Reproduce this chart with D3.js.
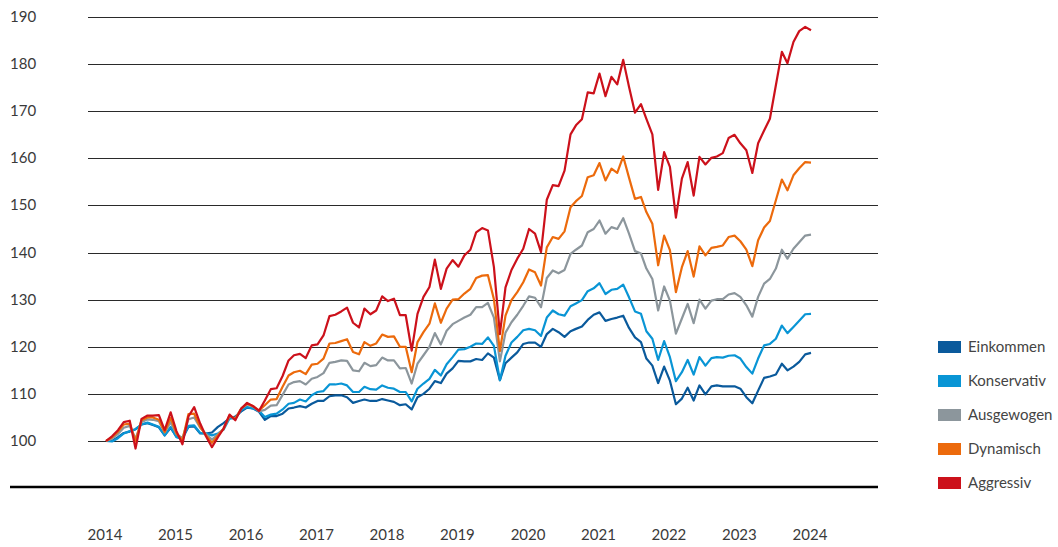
<!DOCTYPE html>
<html>
<head>
<meta charset="utf-8">
<script src="https://cdn.jsdelivr.net/npm/d3@7"></script>
<style>
  body { margin: 0; background: #fff; }
  svg { display: block; font-family: Lato, "Open Sans", sans-serif; }
  .lbl { fill: #3a3a3a; font-size: 15px; }
</style>
</head>
<body>
<svg width="1058" height="547"></svg>
<script>
// monthly index values, Jul 2014 .. Jul 2024 (start = 100)
var seriesNames = ["Einkommen", "Konservativ", "Ausgewogen", "Dynamisch", "Aggressiv"];
var seriesColors = ["#0a5a9c", "#0995d5", "#8c969c", "#ec6a0c", "#cc111b"];

var einkommen = [100, 100.0, 100.8, 101.7, 102.0, 102.5, 103.5, 103.8, 103.4, 102.9,
  101.2, 102.8, 100.9, 100.6, 103.0, 103.1, 101.6, 101.6, 101.8, 103.0,
  103.8, 104.8, 105.2, 106.3, 107.1, 106.9, 106.2, 104.5, 105.3, 105.3,
  105.8, 106.9, 107.1, 107.4, 107.1, 107.9, 108.5, 108.5, 109.5, 109.7,
  109.7, 109.3, 108.1, 108.5, 108.8, 108.5, 108.5, 108.9, 108.6, 108.3,
  107.6, 107.8, 106.7, 109.3, 110.0, 111.1, 112.7, 112.3, 114.3, 115.4,
  117.0, 116.9, 116.9, 117.4, 117.2, 118.6, 117.7, 112.9, 116.5, 117.7,
  118.8, 120.6, 120.9, 120.9, 120.0, 122.7, 123.8, 123.1, 122.1, 123.3,
  123.8, 124.3, 125.7, 126.8, 127.3, 125.5, 125.9, 126.2, 126.6, 124.0,
  122.0, 121.0, 117.5, 116.0, 112.3, 115.8, 112.8, 107.8, 109.0, 111.3,
  108.6, 111.8, 109.9, 111.6, 111.8, 111.6, 111.6, 111.6, 111.1, 109.3,
  108.0, 110.7, 113.4, 113.7, 114.1, 116.4, 115.0, 115.8, 116.8, 118.4,
  118.7];

var konservativ = [100, 99.9, 100.6, 101.6, 102.1, 102.5, 103.5, 103.9, 103.5, 103.0,
  101.2, 103.0, 100.8, 100.4, 103.2, 103.3, 101.7, 101.6, 101.2, 101.6,
  102.4, 104.8, 104.8, 106.6, 107.2, 106.9, 106.4, 105.1, 105.6, 105.8,
  106.7, 107.9, 108.1, 108.8, 108.4, 109.7, 110.4, 110.6, 112.0, 112.0,
  112.2, 111.8, 110.4, 110.4, 111.5, 111.0, 110.9, 111.8, 111.3, 111.1,
  110.4, 110.4, 108.4, 111.1, 112.2, 113.2, 115.1, 113.9, 116.3, 117.8,
  119.4, 119.5, 120.0, 120.7, 120.6, 122.0, 120.2, 112.9, 118.1, 120.9,
  122.1, 123.5, 123.8, 123.5, 122.3, 126.2, 127.7, 126.9, 126.6, 128.6,
  129.2, 129.9, 131.8, 132.4, 133.5, 131.2, 132.1, 132.3, 133.2, 130.5,
  127.5, 127.0, 123.3, 121.7, 117.2, 121.2, 117.8, 112.7, 114.6, 117.2,
  114.1, 117.8, 116.0, 117.6, 117.8, 117.7, 118.1, 118.2, 117.5, 115.7,
  114.3, 117.5, 120.3, 120.6, 121.7, 124.5, 122.9, 124.2, 125.5, 126.9,
  127.0];

var ausgewogen = [100, 100.5, 101.5, 102.8, 103.2, 100.5, 104.0, 104.6, 104.5, 104.2,
  101.8, 104.0, 101.5, 100.6, 104.6, 105.0, 102.8, 101.5, 100.3, 101.4,
  102.6, 105.2, 104.8, 106.9, 107.8, 107.3, 106.3, 106.6, 107.5, 107.6,
  109.8, 112.0, 112.5, 112.7, 112.0, 113.2, 113.6, 114.4, 116.6, 116.8,
  117.1, 117.0, 115.0, 114.8, 116.6, 115.9, 116.1, 117.7, 117.1, 117.1,
  115.4, 115.5, 112.2, 116.4, 118.2, 120.0, 122.9, 120.5, 123.4, 124.8,
  125.5, 126.2, 126.8, 128.4, 128.4, 129.3, 126.2, 116.9, 123.0, 125.2,
  126.8, 128.7, 130.7, 130.4, 128.4, 134.6, 136.2, 135.6, 136.3, 139.7,
  140.6, 141.5, 144.3, 145.0, 146.8, 144.0, 145.4, 145.0, 147.3, 144.0,
  140.3, 139.8, 136.6, 134.4, 127.7, 132.8, 129.8, 122.8, 126.0, 129.1,
  125.0, 130.0, 128.1, 129.8, 130.1, 130.1, 131.1, 131.4, 130.6, 128.8,
  126.4, 130.6, 133.4, 134.4, 136.6, 140.6, 138.7, 140.8, 142.2, 143.6,
  143.8];

var dynamisch = [100, 100.8, 102.0, 103.5, 103.7, 100.0, 104.4, 105.0, 105.0, 104.5,
  101.9, 104.9, 101.6, 100.1, 105.7, 105.8, 103.0, 101.2, 99.6, 101.2,
  102.6, 105.4, 104.7, 106.9, 107.9, 107.4, 106.5, 107.6, 108.8, 108.9,
  111.5, 113.9, 114.6, 114.9, 114.2, 116.2, 116.4, 117.5, 120.7, 120.8,
  121.2, 121.6, 118.9, 118.4, 121.0, 120.2, 120.7, 122.6, 122.1, 122.2,
  120.0, 120.0, 114.6, 121.0, 123.1, 124.9, 129.2, 125.1, 128.1, 130.0,
  130.1, 131.3, 132.3, 134.6, 135.1, 135.2, 130.1, 119.1, 126.6, 129.9,
  131.6, 133.7, 136.4, 135.8, 133.0, 141.1, 143.3, 142.9, 144.5, 149.6,
  150.9, 152.0, 156.0, 156.4, 159.0, 155.3, 157.8, 156.9, 160.4, 155.9,
  151.4, 151.8, 148.6, 146.1, 137.3, 143.6, 140.5, 131.6, 136.9, 140.3,
  134.9, 141.3, 139.4, 141.0, 141.2, 141.5, 143.3, 143.6, 142.4, 140.6,
  137.1, 142.6, 145.3, 146.7, 151.1, 155.5, 153.2, 156.4, 157.9, 159.2,
  159.1];

var aggressiv = [100, 101.0, 102.3, 104.0, 104.3, 98.4, 104.7, 105.4, 105.4, 105.5,
  102.3, 106.1, 102.1, 99.3, 105.2, 107.2, 103.7, 101.0, 98.7, 100.8,
  102.6, 105.6, 104.4, 106.9, 108.1, 107.4, 106.4, 108.6, 111.0, 111.2,
  113.8, 117.1, 118.2, 118.5, 117.6, 120.3, 120.5, 122.4, 126.5, 126.8,
  127.5, 128.3, 125.1, 124.1, 128.1, 126.9, 127.7, 130.7, 129.7, 130.2,
  126.7, 126.7, 119.2, 127.0, 130.6, 132.7, 138.5, 132.3, 136.6, 138.4,
  137.0, 139.4, 140.6, 144.3, 145.2, 144.7, 136.9, 122.7, 132.6, 136.3,
  138.7, 140.8, 145.0, 144.0, 140.1, 151.2, 154.3, 154.1, 157.4, 165.1,
  167.0, 168.3, 174.0, 173.8, 178.0, 173.2, 177.3, 175.7, 180.9, 175.2,
  169.7, 171.5, 168.4, 165.1, 153.3, 161.3, 158.2, 147.4, 155.7, 159.2,
  152.1, 160.3, 158.7, 160.1, 160.4, 161.1, 164.3, 165.0, 163.2, 161.7,
  156.9, 163.2, 165.9, 168.4, 175.5, 182.6, 180.2, 184.7, 187.0, 187.9,
  187.2];

var yTicks = [100, 110, 120, 130, 140, 150, 160, 170, 180, 190];
var yearLabels = [2014, 2015, 2016, 2017, 2018, 2019, 2020, 2021, 2022, 2023, 2024];

var allSeries = [einkommen, konservativ, ausgewogen, dynamisch, aggressiv];

var svg = d3.select("svg");

var start = new Date(2014, 6, 1);
var months = d3.range(einkommen.length).map(function(i) { return d3.timeMonth.offset(start, i); });

var x = d3.scaleTime()
    .domain([start, new Date(2024, 6, 1)])
    .range([106, 811]);

var y = d3.scaleLinear()
    .domain([100, 190])
    .range([441, 17]);

// grid
svg.append("g").selectAll("line")
    .data(yTicks)
    .enter().append("line")
    .attr("x1", 88).attr("x2", 878)
    .attr("y1", function(d) { return Math.round(y(d)) + 0.5; })
    .attr("y2", function(d) { return Math.round(y(d)) + 0.5; })
    .attr("stroke", "#2a2a2a")
    .attr("stroke-width", 1);

svg.append("g").selectAll("text")
    .data(yTicks)
    .enter().append("text")
    .attr("class", "lbl")
    .attr("x", 10)
    .attr("y", function(d) { return y(d) + 5; })
    .text(function(d) { return d; });

// baseline
svg.append("line")
    .attr("x1", 10).attr("x2", 878)
    .attr("y1", 487).attr("y2", 487)
    .attr("stroke", "#000")
    .attr("stroke-width", 2.5);

svg.append("g").selectAll("text")
    .data(yearLabels)
    .enter().append("text")
    .attr("class", "lbl")
    .attr("text-anchor", "middle")
    .attr("x", function(d) { return x(new Date(d, 6, 1)) - 1; })
    .attr("y", 540)
    .text(function(d) { return d; });

var line = d3.line()
    .x(function(d, i) { return x(months[i]); })
    .y(function(d) { return y(d); });

svg.append("g").selectAll("path")
    .data(allSeries)
    .enter().append("path")
    .attr("d", line)
    .attr("fill", "none")
    .attr("stroke", function(d, i) { return seriesColors[i]; })
    .attr("stroke-width", 2.2)
    .attr("stroke-linejoin", "round");

// legend
var leg = svg.append("g").selectAll("g")
    .data(seriesNames)
    .enter().append("g")
    .attr("transform", function(d, i) { return "translate(938," + (347 + i * 34) + ")"; });

leg.append("rect")
    .attr("x", 0).attr("y", -6)
    .attr("width", 23).attr("height", 12)
    .attr("fill", function(d, i) { return seriesColors[i]; });

leg.append("text")
    .attr("class", "lbl")
    .attr("x", 30)
    .attr("y", 5)
    .style("fill", "#444")
    .text(function(d) { return d; });
</script>
</body>
</html>
